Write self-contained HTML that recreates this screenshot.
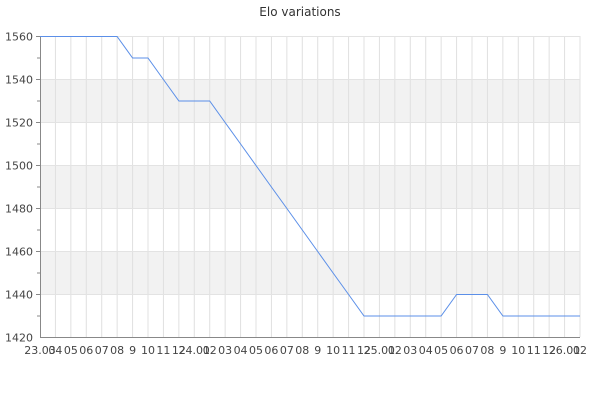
<!DOCTYPE html>
<html><head><meta charset="utf-8"><style>body{margin:0;background:#fff}svg{display:block}</style></head>
<body>
<svg width="600" height="400" xmlns="http://www.w3.org/2000/svg" font-family="DejaVu Sans, Liberation Sans, sans-serif">
<text x="300" y="16" text-anchor="middle" font-size="12" fill="#333">Elo variations</text>
<g fill="#f2f2f2">
<rect x="40" y="79.5" width="540" height="43"/>
<rect x="40" y="165.5" width="540" height="43"/>
<rect x="40" y="251.5" width="540" height="43"/>
</g>
<g stroke="#e0e0e0" stroke-width="1" id="vg"></g>
<g stroke="#e3e3e3" stroke-width="1">
<line x1="40" x2="580" y1="36.5" y2="36.5"/>
<line x1="40" x2="580" y1="79.5" y2="79.5"/>
<line x1="40" x2="580" y1="122.5" y2="122.5"/>
<line x1="40" x2="580" y1="165.5" y2="165.5"/>
<line x1="40" x2="580" y1="208.5" y2="208.5"/>
<line x1="40" x2="580" y1="251.5" y2="251.5"/>
<line x1="40" x2="580" y1="294.5" y2="294.5"/>
</g>
<g stroke="#888" stroke-width="1">
<line x1="40.5" x2="40.5" y1="36" y2="337.5"/>
<line x1="40" x2="580" y1="337.5" y2="337.5"/>
<line x1="36" x2="40" y1="36.5" y2="36.5"/><line x1="37" x2="40" y1="58" y2="58"/>
<line x1="36" x2="40" y1="79.5" y2="79.5"/><line x1="37" x2="40" y1="101" y2="101"/>
<line x1="36" x2="40" y1="122.5" y2="122.5"/><line x1="37" x2="40" y1="144" y2="144"/>
<line x1="36" x2="40" y1="165.5" y2="165.5"/><line x1="37" x2="40" y1="187" y2="187"/>
<line x1="36" x2="40" y1="208.5" y2="208.5"/><line x1="37" x2="40" y1="230" y2="230"/>
<line x1="36" x2="40" y1="251.5" y2="251.5"/><line x1="37" x2="40" y1="273" y2="273"/>
<line x1="36" x2="40" y1="294.5" y2="294.5"/><line x1="37" x2="40" y1="316" y2="316"/>
</g>
<g font-size="11" fill="#444" text-anchor="end">
<text x="33" y="40.5">1560</text><text x="33" y="83.5">1540</text><text x="33" y="126.5">1520</text>
<text x="33" y="169.5">1500</text><text x="33" y="212.5">1480</text><text x="33" y="255.5">1460</text>
<text x="33" y="298.5">1440</text><text x="33" y="341.5">1420</text>
</g>
<g id="xl" font-size="11" fill="#444" text-anchor="middle"></g>
<polyline fill="none" stroke="#5b8fe8" stroke-width="1" points="40,36.5 117.1,36.5 132.6,58 148,58 163.4,79.5 178.9,101 209.7,101 225.1,122.5 240.6,144 256,165.5 271.4,187 286.9,208.5 302.3,230 317.7,251.5 333.1,273 348.6,294.5 364,316 441.1,316 456.6,294.5 487.4,294.5 502.9,316 580,316"/>
<script>
var labs=["23.03","04","05","06","07","08","9","10","11","12","24.01","02","03","04","05","06","07","08","9","10","11","12","25.01","02","03","04","05","06","07","08","9","10","11","12","26.01","02"];
var vg=document.getElementById("vg"),xl=document.getElementById("xl"),ns="http://www.w3.org/2000/svg";
for(var i=0;i<36;i++){var x=40+i*540/35;
if(i>0){var l=document.createElementNS(ns,"line");l.setAttribute("x1",x);l.setAttribute("x2",x);l.setAttribute("y1",36);l.setAttribute("y2",337);vg.appendChild(l);}
var t=document.createElementNS(ns,"text");t.setAttribute("x",x);t.setAttribute("y",354);t.textContent=labs[i];xl.appendChild(t);}
</script>
</svg>
</body></html>
